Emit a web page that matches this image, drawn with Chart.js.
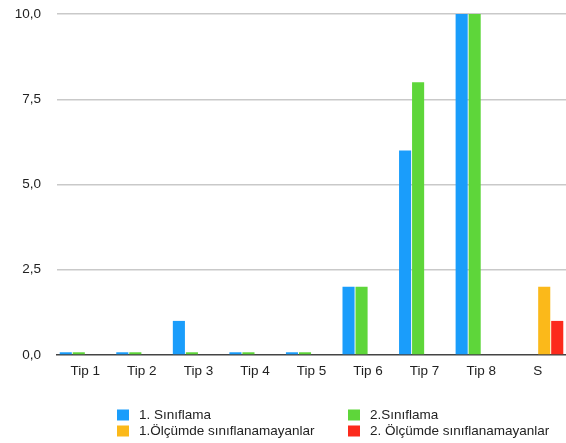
<!DOCTYPE html>
<html>
<head>
<meta charset="utf-8">
<script src="https://cdn.jsdelivr.net/npm/chart.js@4/dist/chart.umd.min.js"></script>
<style>
  html, body { margin: 0; padding: 0; background: #fff; }
  #wrap { position: relative; width: 566px; height: 443px; }
</style>
</head>
<body>
<div id="wrap"><canvas id="c" width="566" height="443"></canvas></div>
<script>
// Categories and series
const categories = ['Tip 1', 'Tip 2', 'Tip 3', 'Tip 4', 'Tip 5', 'Tip 6', 'Tip 7', 'Tip 8', 'S'];
const siniflama1 = [0.08, 0.08, 1, 0.08, 0.08, 2, 6, 10, null];
const siniflama2 = [0.08, 0.08, 0.08, 0.08, 0.08, 2, 8, 10, null];
const olcum1Siniflanamayan = [null, null, null, null, null, null, null, null, 2];
const olcum2Siniflanamayan = [null, null, null, null, null, null, null, null, 1];
const seriesNames = ['1. Sınıflama', '2.Sınıflama', '1.Ölçümde sınıflanamayanlar', '2. Ölçümde sınıflanamayanlar'];
const yTicks = [0, 2.5, 5, 7.5, 10];

const colors = ['#1a9dfb', '#5ed63a', '#fbb91a', '#fc2a1c'];
const FONT = '"Liberation Sans", Arial, Helvetica, sans-serif';
const FSIZE = 13.5;

// Two-column legend drawn under the plot
const gridLegend = {
  id: 'gridLegend',
  afterDraw(chart) {
    const ctx = chart.ctx;
    const ds = chart.data.datasets;
    const colX = [117, 348];
    const rowY = [415, 431];
    ctx.save();
    ctx.font = FSIZE + 'px ' + FONT;
    ctx.textBaseline = 'middle';
    ds.forEach((d, i) => {
      const x = colX[i % 2];
      const y = rowY[Math.floor(i / 2)];
      ctx.fillStyle = d.backgroundColor;
      ctx.fillRect(x, y - 5.5, 12, 11);
      ctx.fillStyle = '#222';
      ctx.fillText(d.label, x + 22, y + 0.5);
    });
    ctx.restore();
  }
};

new Chart(document.getElementById('c'), {
  type: 'bar',
  data: {
    labels: categories,
    datasets: [
      { label: seriesNames[0], data: siniflama1, backgroundColor: colors[0] },
      { label: seriesNames[1], data: siniflama2, backgroundColor: colors[1] },
      { label: seriesNames[2], data: olcum1Siniflanamayan, backgroundColor: colors[2] },
      { label: seriesNames[3], data: olcum2Siniflanamayan, backgroundColor: colors[3] }
    ]
  },
  options: {
    responsive: false,
    animation: false,
    devicePixelRatio: 1,
    layout: { padding: { top: 14, right: 0, bottom: 58, left: 0 } },
    datasets: {
      bar: { categoryPercentage: 0.92, barPercentage: 0.93, borderWidth: 0 }
    },
    plugins: {
      legend: { display: false },
      tooltip: { enabled: false }
    },
    scales: {
      x: {
        grid: { display: false, drawTicks: false },
        border: { display: true, color: '#444', width: 1.5 },
        ticks: { color: '#222', font: { family: FONT, size: FSIZE }, padding: 8 },
        afterFit(scale) { scale.height = 30; }
      },
      y: {
        min: 0,
        max: 10,
        afterBuildTicks(scale) { scale.ticks = yTicks.map(v => ({ value: v })); },
        grid: {
          drawTicks: false,
          color: (c) => c.tick && c.tick.value === 0 ? 'rgba(0,0,0,0)' : '#c9c9c9',
          lineWidth: 1.5
        },
        border: { display: false },
        ticks: {
          color: '#222',
          font: { family: FONT, size: FSIZE },
          padding: 16,
          callback: (v) => Number(v).toFixed(1).replace('.', ',')
        },
        afterFit(scale) {
          scale.width = 57;
          scale.paddingTop = 0;
          scale.paddingBottom = 0;
        }
      }
    }
  },
  plugins: [gridLegend]
});
</script>
</body>
</html>
